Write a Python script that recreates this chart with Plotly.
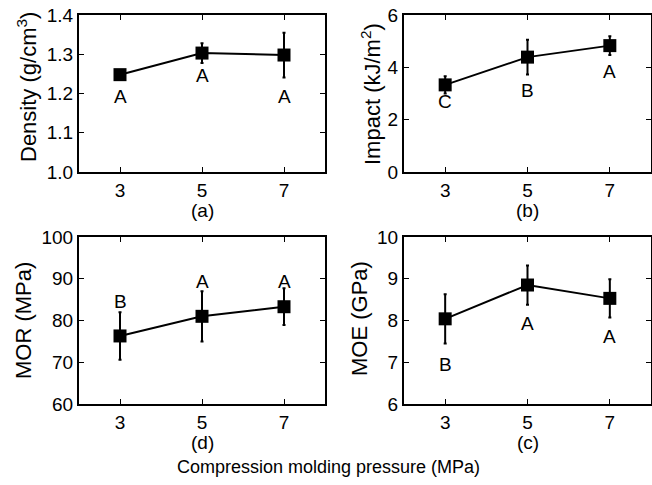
import plotly.graph_objects as go

pressure = [3, 5, 7]

density = [1.248, 1.303, 1.298]
density_err = [0.006, 0.025, 0.057]
density_letters = ["A", "A", "A"]
density_label_y = [1.192, 1.247, 1.192]

impact = [3.33, 4.39, 4.83]
impact_err = [0.33, 0.66, 0.36]
impact_letters = ["C", "B", "A"]
impact_label_y = [2.70, 3.13, 3.84]

mor = [76.3, 81.0, 83.3]
mor_err = [5.7, 6.0, 4.4]
mor_letters = ["B", "A", "A"]
mor_label_y = [84.6, 89.4, 89.4]

moe = [8.04, 8.85, 8.53]
moe_err = [0.59, 0.47, 0.46]
moe_letters = ["B", "A", "A"]
moe_label_y = [6.94, 7.94, 7.62]

panels = [
    dict(y=density, e=density_err, lab=density_letters, ly=density_label_y,
         title="Density (g/cm<sup>3</sup>)", rng=[1.0, 1.4], dtick=0.1, fmt=".1f", sub="(a)"),
    dict(y=impact, e=impact_err, lab=impact_letters, ly=impact_label_y,
         title="Impact (kJ/m<sup>2</sup>)", rng=[0, 6], dtick=2, fmt="d", sub="(b)"),
    dict(y=mor, e=mor_err, lab=mor_letters, ly=mor_label_y,
         title="MOR (MPa)", rng=[60, 100], dtick=10, fmt="d", sub="(d)"),
    dict(y=moe, e=moe_err, lab=moe_letters, ly=moe_label_y,
         title="MOE (GPa)", rng=[6, 10], dtick=1, fmt="d", sub="(c)"),
]

W, H = 652, 485
xdoms = [[79 / W, 325 / W], [404 / W, 651 / W]]
ydoms = [[1 - 172 / H, 1 - 15 / H], [1 - 404 / H, 1 - 237 / H]]
ytitle_x = [[27 / W, 23 / W], [371 / W, 359 / W]]  # [col][row]
ytitle_y = [[1 - 87 / H, 1 - 321 / H], [1 - 94 / H, 1 - 319 / H]]

FONT = "Liberation Sans, Arial, Helvetica, sans-serif"
fig = go.Figure()
annotations = []
layout = {}
for i, p in enumerate(panels):
    n = i + 1
    xa = "x" if n == 1 else f"x{n}"
    ya = "y" if n == 1 else f"y{n}"
    col, row = i % 2, i // 2
    fig.add_trace(go.Scatter(
        x=pressure, y=p["y"], xaxis=xa, yaxis=ya, mode="lines+markers",
        line=dict(color="black", width=2),
        marker=dict(symbol="square", size=13, color="black"),
        error_y=dict(type="data", array=p["e"], color="black", thickness=2, width=1.5),
        showlegend=False, hoverinfo="skip"))
    axis_common = dict(showline=True, linecolor="black", linewidth=2, mirror="ticks",
                       ticks="inside", ticklen=5, tickwidth=1, tickcolor="black",
                       showgrid=False, zeroline=False, automargin=False,
                       tickfont=dict(family=FONT, size=19, color="black"))
    layout["xaxis" if n == 1 else f"xaxis{n}"] = dict(
        domain=xdoms[col], range=[2, 8], tickvals=pressure, anchor=ya, **axis_common)
    layout["yaxis" if n == 1 else f"yaxis{n}"] = dict(
        domain=ydoms[row], range=p["rng"], dtick=p["dtick"], tick0=p["rng"][0],
        tickformat=p["fmt"], anchor=xa, **axis_common)
    for xv, t, yv in zip(pressure, p["lab"], p["ly"]):
        annotations.append(dict(x=xv, y=yv, xref=xa, yref=ya, text=t, showarrow=False,
                                xanchor="center", yanchor="middle",
                                font=dict(family=FONT, size=19, color="black")))
    annotations.append(dict(x=sum(xdoms[col]) / 2, y=ydoms[row][0], xref="paper", yref="paper",
                            yshift=-38, text=p["sub"], showarrow=False,
                            xanchor="center", yanchor="middle",
                            font=dict(family=FONT, size=19, color="black")))
    annotations.append(dict(x=ytitle_x[col][row], y=ytitle_y[col][row], xref="paper",
                            yref="paper", text=p["title"], textangle=-90, showarrow=False,
                            xanchor="center", yanchor="middle",
                            font=dict(family=FONT, size=22, color="black")))

annotations.append(dict(x=328 / W, y=1 - 467 / H, xref="paper", yref="paper",
                        text="Compression molding pressure (MPa)", showarrow=False,
                        xanchor="center", yanchor="middle",
                        font=dict(family=FONT, size=18, color="black")))

fig.update_layout(width=W, height=H, margin=dict(l=0, r=0, t=0, b=0),
                  paper_bgcolor="white", plot_bgcolor="white",
                  annotations=annotations, **layout)
fig.write_html("out.html")
